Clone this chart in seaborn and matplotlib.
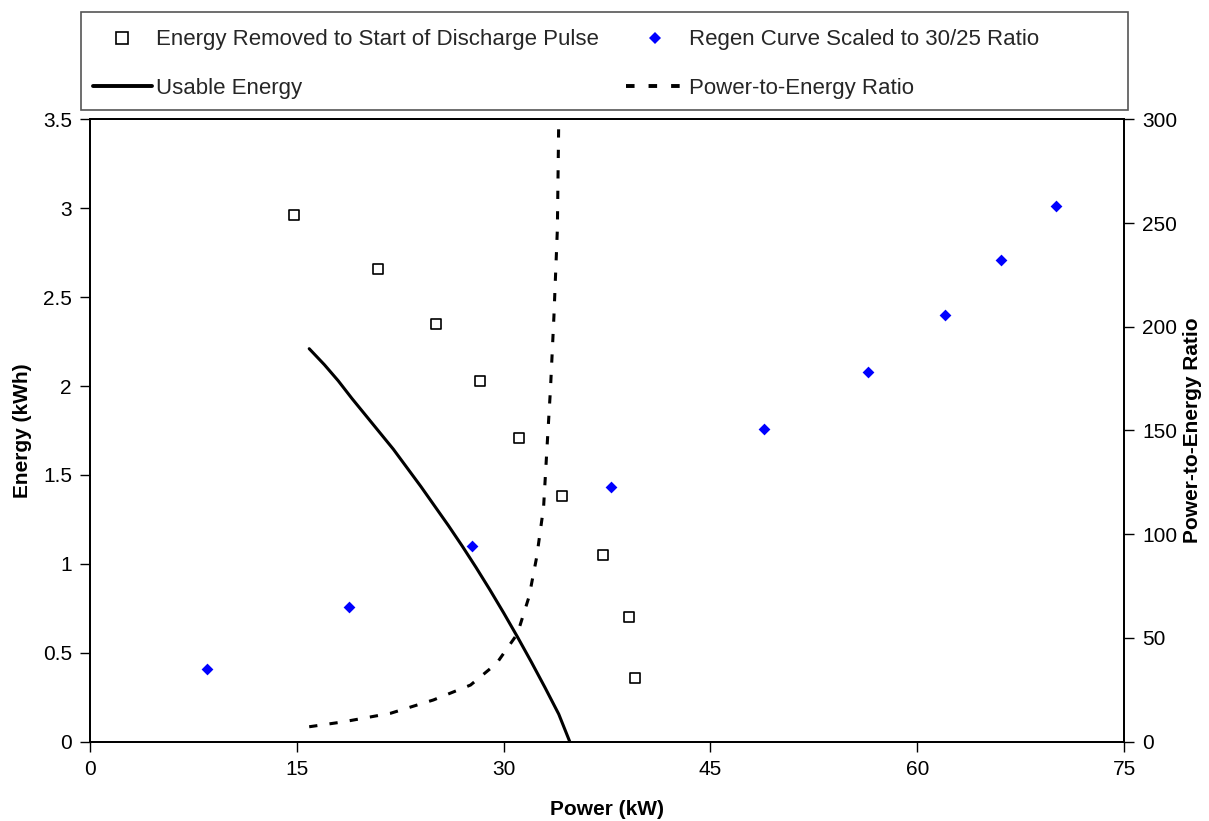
import matplotlib
matplotlib.use("Agg")
import matplotlib.pyplot as plt
from matplotlib.lines import Line2D
from matplotlib.patches import Rectangle
from matplotlib.ticker import FuncFormatter, MultipleLocator
import seaborn as sns

# Energy removed before the discharge pulse starts
removed_power = [14.8, 20.9, 25.1, 28.3, 31.1, 34.2, 37.2, 39.1, 39.5]
removed_energy = [2.96, 2.66, 2.35, 2.03, 1.71, 1.38, 1.05, 0.70, 0.36]

# Regen curve scaled to the 30/25 ratio
regen_power = [8.5, 18.8, 27.7, 37.8, 48.9, 56.4, 62.0, 66.1, 70.1]
regen_energy = [0.41, 0.76, 1.10, 1.43, 1.76, 2.08, 2.40, 2.71, 3.01]

# Usable energy curve
usable_power = [15.9, 17, 18, 19, 20, 21, 22, 23, 24, 25, 26, 27, 28, 29, 30,
                31, 32, 33, 34, 34.8]
usable_energy = [2.21, 2.12, 2.03, 1.93, 1.835, 1.74, 1.645, 1.54, 1.435, 1.325,
                 1.215, 1.10, 0.98, 0.855, 0.725, 0.59, 0.45, 0.305, 0.155, 0.0]

# Power-to-energy ratio (right axis)
ratio_power = [15.9, 18.4, 21.8, 24.9, 27.6, 29.5, 31.0, 31.85, 32.4, 32.9,
               33.15, 33.4, 33.65, 33.9, 34.0]
ratio_values = [7.2, 9.6, 13.7, 20.1, 27.3, 37.8, 52, 70, 89, 113,
                142, 170, 205, 247, 300]

labels = [
    "Energy Removed to Start of Discharge Pulse",
    "Regen Curve Scaled to 30/25 Ratio",
    "Usable Energy",
    "Power-to-Energy Ratio",
]

sns.set_theme(style="white")
plt.rcParams["font.family"] = ["Liberation Sans", "DejaVu Sans"]
FS = 15
LEG_FS = 16
LW = 2.2
DASHES = (2.7, 4.0)

fig = plt.figure(figsize=(12.09, 8.21), dpi=100)
ax = fig.add_axes([90 / 1209, 1 - 741.7 / 821, (1124 - 90) / 1209, (741.7 - 119.3) / 821])
ax2 = ax.twinx()

sns.scatterplot(x=removed_power, y=removed_energy, ax=ax, marker="s", s=55,
                facecolor="white", edgecolor="black", linewidth=1.2, zorder=3)
sns.scatterplot(x=regen_power, y=regen_energy, ax=ax, marker="D", s=36,
                color="#0000FF", linewidth=0, zorder=3)
sns.lineplot(x=usable_power, y=usable_energy, ax=ax, sort=False, estimator=None,
             color="black", linewidth=LW, zorder=2)
sns.lineplot(x=ratio_power, y=ratio_values, ax=ax2, sort=False, estimator=None,
             color="black", linewidth=LW, dashes=False, zorder=2)
ax2.lines[0].set_dashes(DASHES)

ax.set_xlim(0, 75)
ax.set_ylim(0, 3.5)
ax2.set_ylim(0, 300)
ax.xaxis.set_major_locator(MultipleLocator(15))
ax.yaxis.set_major_locator(MultipleLocator(0.5))
ax2.yaxis.set_major_locator(MultipleLocator(50))
fmt = FuncFormatter(lambda v, p: f"{v:g}")
ax.yaxis.set_major_formatter(fmt)

for a in (ax, ax2):
    for sp in a.spines.values():
        sp.set_color("black")
        sp.set_linewidth(1.3)
    a.grid(False)
ax.tick_params(axis="both", direction="out", length=7, width=1, color="black",
               labelsize=FS, labelcolor="black", pad=6, left=True, bottom=True)
ax2.tick_params(axis="y", direction="out", length=7, width=1, color="black",
                labelsize=FS, labelcolor="black", pad=6, right=True)

ax.set_xlabel("Power (kW)", fontsize=FS, fontweight="bold", labelpad=15, color="black")
ax.set_ylabel("Energy (kWh)", fontsize=FS, fontweight="bold", labelpad=8, color="black")
ax2.set_ylabel("Power-to-Energy Ratio", fontsize=FS, fontweight="bold", labelpad=4,
               color="black")

# Legend above the plot area
fig.patches.append(Rectangle((81 / 1209, 1 - 110 / 821), (1128 - 81) / 1209,
                             (110 - 12.3) / 821, transform=fig.transFigure,
                             facecolor="white", edgecolor="#555555", linewidth=1.2))
handles = [
    Line2D([], [], linestyle="none", marker="s", markersize=8, markerfacecolor="white",
           markeredgecolor="black", markeredgewidth=1.2),
    Line2D([], [], linestyle="none", marker="D", markersize=6, markerfacecolor="#0000FF",
           markeredgewidth=0),
    Line2D([], [], color="black", linewidth=LW + 0.6),
    Line2D([], [], color="black", linewidth=LW + 0.6, dashes=(2.2, 3.6)),
]
order = [0, 2, 1, 3]
fig.legend([handles[i] for i in order], [labels[i] for i in order],
           loc="upper left", bbox_to_anchor=(93 / 1209, 1 - 29.5 / 821), ncol=2,
           frameon=False, fontsize=LEG_FS, handlelength=2.65, handletextpad=0.2,
           columnspacing=1.2, labelspacing=1.25, borderpad=0, borderaxespad=0)

fig.savefig("out.png", dpi=100, facecolor="white")
